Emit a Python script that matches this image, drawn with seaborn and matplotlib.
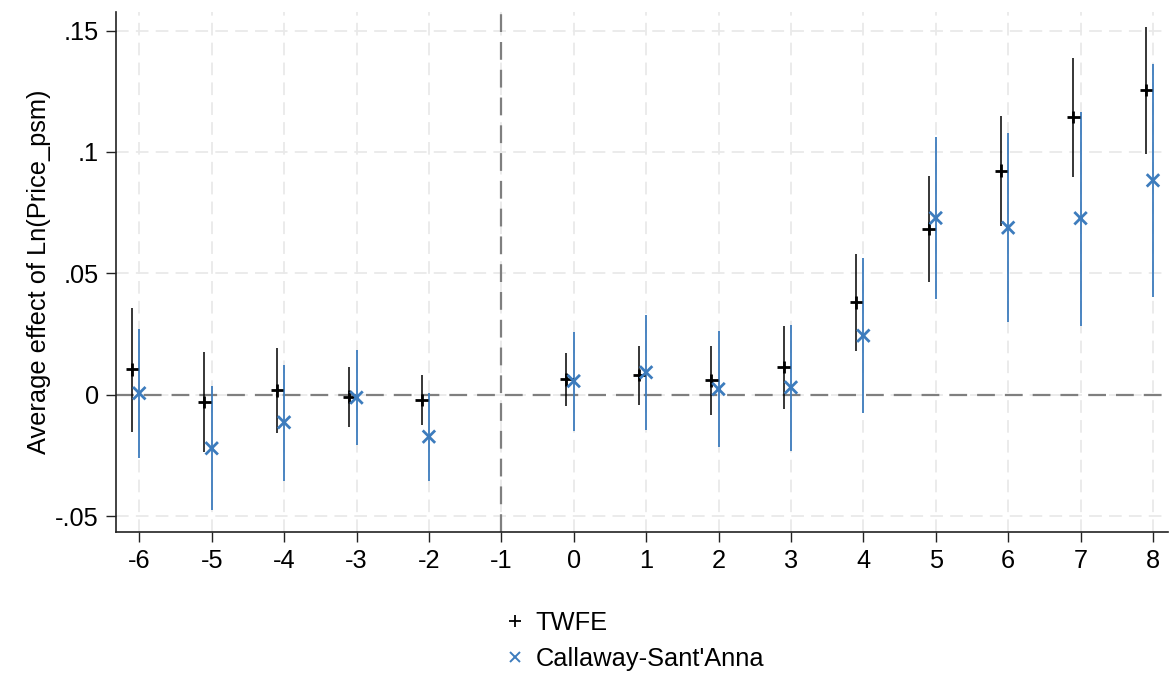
import numpy as np
import pandas as pd
import matplotlib
matplotlib.use("Agg")
import matplotlib.pyplot as plt
from matplotlib.lines import Line2D
import seaborn as sns

# Event time relative to treatment (period -1 is the omitted reference)
periods = [-6, -5, -4, -3, -2, 0, 1, 2, 3, 4, 5, 6, 7, 8]

# Two-way fixed effects estimates with 95% CI bounds
twfe_est = [0.0104, -0.0030, 0.0018, -0.0008, -0.0022, 0.0063, 0.0080, 0.0059,
            0.0113, 0.0380, 0.0684, 0.0923, 0.1143, 0.1255]
twfe_lo = [-0.0152, -0.0235, -0.0159, -0.0135, -0.0126, -0.0048, -0.0041, -0.0082,
           -0.0060, 0.0180, 0.0463, 0.0695, 0.0897, 0.0993]
twfe_hi = [0.0358, 0.0174, 0.0191, 0.0114, 0.0081, 0.0172, 0.0199, 0.0199,
           0.0283, 0.0580, 0.0902, 0.1150, 0.1386, 0.1516]

# Callaway-Sant'Anna estimates with 95% CI bounds
cs_est = [0.0006, -0.0221, -0.0114, -0.0012, -0.0173, 0.0056, 0.0092, 0.0023,
          0.0030, 0.0243, 0.0728, 0.0688, 0.0727, 0.0883]
cs_lo = [-0.0262, -0.0475, -0.0354, -0.0209, -0.0354, -0.0148, -0.0147, -0.0214,
         -0.0231, -0.0074, 0.0394, 0.0298, 0.0284, 0.0401]
cs_hi = [0.0271, 0.0034, 0.0124, 0.0184, 0.0005, 0.0258, 0.0330, 0.0262,
         0.0288, 0.0563, 0.1060, 0.1080, 0.1163, 0.1364]

x_ticks = list(range(-6, 9))
y_ticks = [-0.05, 0, 0.05, 0.10, 0.15]
y_tick_labels = ["-.05", "0", ".05", ".1", ".15"]

series_names = ["TWFE", "Callaway-Sant'Anna"]
twfe_color = "black"
cs_color = "#3d7cbd"

sns.set_theme(style="white")
plt.rcParams["font.family"] = ["Liberation Sans", "DejaVu Sans"]
plt.rcParams["text.color"] = "black"
plt.rcParams["axes.labelcolor"] = "black"
plt.rcParams["xtick.color"] = "black"
plt.rcParams["ytick.color"] = "black"

FS = 18.3

df = pd.concat([
    pd.DataFrame({"period": np.array(periods) - 0.1, "est": twfe_est,
                  "lo": twfe_lo, "hi": twfe_hi, "model": series_names[0]}),
    pd.DataFrame({"period": np.array(periods, dtype=float), "est": cs_est,
                  "lo": cs_lo, "hi": cs_hi, "model": series_names[1]}),
], ignore_index=True)

fig = plt.figure(figsize=(11.71, 6.73), dpi=100)
ax = fig.add_axes([0.0988, 0.2091, 0.8986, 0.7735])

# light dashed grid
grid_kw = dict(color="#e9e9e9", lw=1.3, ls=(0, (7, 4)), zorder=0)
for xt in x_ticks:
    ax.axvline(xt, **grid_kw)
for yt in y_ticks:
    ax.axhline(yt, **grid_kw)

# reference lines
ax.axhline(0, color="#7f7f7f", lw=1.6, ls=(0, (8, 4.5)), zorder=1)
ax.axvline(-1, color="#7f7f7f", lw=1.6, ls=(0, (8, 4.5)), zorder=1)

# confidence intervals
d_t = df[df.model == series_names[0]]
d_c = df[df.model == series_names[1]]
ax.vlines(d_t.period, d_t.lo, d_t.hi, color=twfe_color, lw=1.1, zorder=2)
ax.vlines(d_c.period, d_c.lo, d_c.hi, color=cs_color, lw=1.3, zorder=2)

# point estimates
sns.scatterplot(data=df, x="period", y="est", hue="model", style="model",
                markers={series_names[0]: "+", series_names[1]: "x"},
                palette={series_names[0]: twfe_color, series_names[1]: cs_color},
                s=80, linewidth=2.0, ax=ax, legend=False, zorder=3)

ax.set_xlim(-6.326, 8.207)
ax.set_ylim(-0.0567, 0.1578)
ax.set_xticks(x_ticks)
ax.set_xticklabels([str(t) for t in x_ticks])
ax.set_yticks(y_ticks)
ax.set_yticklabels(y_tick_labels)
ax.tick_params(axis="both", which="major", direction="out", length=7, width=1.0,
               color="#222222", labelsize=FS, labelcolor="black", pad=5,
               bottom=True, left=True)
ax.set_xlabel("")
ax.set_ylabel("Average effect of Ln(Price_psm)", fontsize=FS, labelpad=3,
              color="black")
for side in ["top", "right"]:
    ax.spines[side].set_visible(False)
for side in ["left", "bottom"]:
    ax.spines[side].set_color("#222222")
    ax.spines[side].set_linewidth(1.2)

handles = [
    Line2D([], [], ls="none", marker="+", color=twfe_color, markersize=8, mew=1.3),
    Line2D([], [], ls="none", marker="x", color=cs_color, markersize=7, mew=1.4),
]
fig.legend(handles, series_names, loc="center left", bbox_to_anchor=(0.4215, 0.0475),
           frameon=False, fontsize=FS, handletextpad=0.35, labelspacing=0.47,
           handlelength=0.9, borderaxespad=0)

fig.savefig("out.png", dpi=100)
